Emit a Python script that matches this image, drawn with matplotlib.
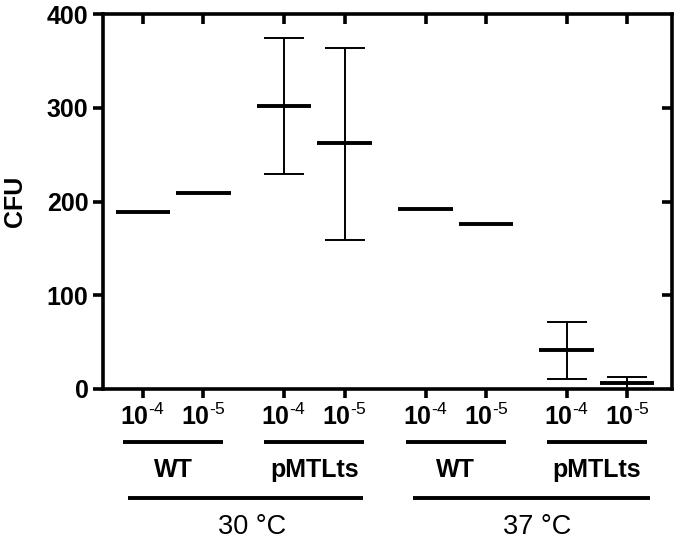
import matplotlib
matplotlib.use("Agg")
import matplotlib.pyplot as plt
import matplotlib.transforms as mtransforms
import numpy as np

plt.rcParams['font.family'] = ['Liberation Sans', 'DejaVu Sans']
plt.rcParams['mathtext.fontset'] = 'custom'
plt.rcParams['mathtext.rm'] = 'Liberation Sans'
plt.rcParams['mathtext.it'] = 'Liberation Sans'
plt.rcParams['mathtext.bf'] = 'Liberation Sans:bold'

# ---- data ----
dilutions = [r"$\mathbf{10}^{\text{-4}}$", r"$\mathbf{10}^{\text{-5}}$"] * 4
strains = ["WT", "pMTLts", "WT", "pMTLts"]
temperatures = ["30 °C", "37 °C"]
means = [189, 209, 302, 262, 192, 176, 41.6, 6]
upper = [np.nan, np.nan, 374, 364, np.nan, np.nan, 72, 12.5]
lower = [np.nan, np.nan, 229, 159, np.nan, np.nan, 10.7, 0]
yticks = [0, 100, 200, 300, 400]

# positions: pairs with wider gaps between groups
xpos = np.array([0, 1, 2.33, 3.33, 4.67, 5.67, 7, 8])

fig = plt.figure(figsize=(6.75, 5.4), dpi=100)
ax = fig.add_axes([103/675, 1-389/540, (672-103)/675, (389-14)/540])

means_a = np.array(means, float)
up = np.array(upper, float)
lo = np.array(lower, float)
has = ~np.isnan(up)
ax.errorbar(xpos[has], means_a[has], yerr=[means_a[has]-lo[has], up[has]-means_a[has]],
            fmt='none', ecolor='black', elinewidth=1.4, capsize=14.5, capthick=1.4,
            clip_on=False, zorder=3)
ax.hlines(means_a, xpos-0.45, xpos+0.45, colors='black', lw=2.8, zorder=4)

FS = 18
ax.set_xlim(-0.66, 8.74)
ax.set_ylim(0, 400)
ax.set_yticks(yticks)
ax.set_yticklabels([str(v) for v in yticks], fontsize=FS, fontweight='bold')
ax.set_xticks(xpos)
ax.set_xticklabels(dilutions, fontsize=FS)
ax.tick_params(axis='y', width=2.6, length=7.5, direction='out', pad=3)
ax.tick_params(axis='x', width=2.6, length=6.5, direction='out', pad=4)
for s in ax.spines.values():
    s.set_linewidth(2.6)
ax.set_ylabel("CFU", fontsize=FS, fontweight='bold')
ax.yaxis.set_label_coords(-0.134, 0.5)

# inner ticks on top and right
ax_top = ax.secondary_xaxis('top')
ax_top.set_xticks(xpos)
ax_top.tick_params(direction='in', width=2.6, length=7, labeltop=False)
ax_top.spines['top'].set_visible(False)
ax_right = ax.secondary_yaxis('right')
ax_right.set_yticks([100, 200, 300])
ax_right.tick_params(direction='in', width=2.6, length=7, labelright=False)
ax_right.spines['right'].set_visible(False)

trans = mtransforms.blended_transform_factory(ax.transData, ax.transAxes)
# strain group lines and labels
for g, name in enumerate(strains):
    a, b = xpos[2*g], xpos[2*g+1]
    ax.plot([a-0.33, b+0.32], [-0.1413, -0.1413], color='black', lw=2.8,
            transform=trans, clip_on=False, solid_capstyle='butt')
    ax.text((a+b)/2, -0.216, name, transform=trans, ha='center', va='center',
            fontsize=FS, fontweight='bold')
# temperature lines and labels
offs = [(-0.25, 0.31), (-0.21, 0.38)]
for t, name in enumerate(temperatures):
    a, b = xpos[4*t], xpos[4*t+3]
    x0, x1 = a + offs[t][0], b + offs[t][1]
    ax.plot([x0, x1], [-0.2907, -0.2907], color='black', lw=2.8,
            transform=trans, clip_on=False, solid_capstyle='butt')
    ax.text((x0+x1)/2 + 0.1, -0.368, name, transform=trans, ha='center', va='center',
            fontsize=19.5)

fig.savefig("out.png", dpi=100)
